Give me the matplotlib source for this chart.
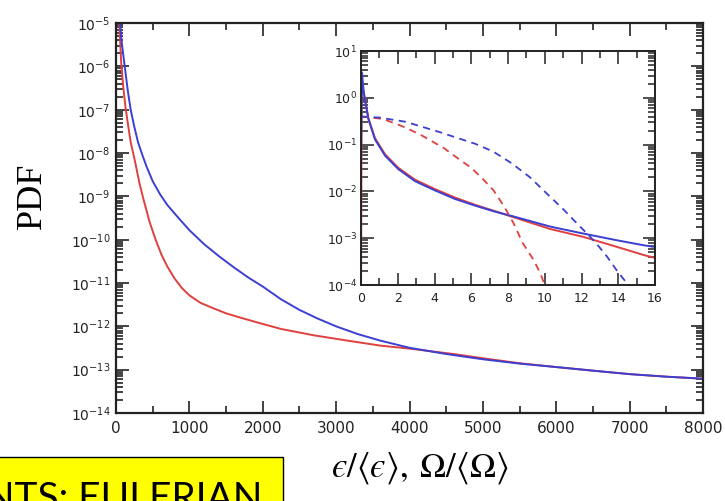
import numpy as np
import matplotlib
matplotlib.use("Agg")
import matplotlib.pyplot as plt
from matplotlib.patches import Rectangle
from matplotlib.ticker import LogLocator, MultipleLocator, NullFormatter

plt.rcParams["font.family"] = "DejaVu Sans"
plt.rcParams["mathtext.fontset"] = "dejavusans"

# ── data ─────────────────────────────────────────────────────────────────────
# main panel: PDF of dissipation (red) and enstrophy (blue), normalised by mean
eps_x = [16, 30, 45, 70, 100, 130, 160, 200, 260, 320, 380, 460, 540, 620,
         700, 800, 900, 1000, 1150, 1330, 1500, 1700, 1950, 2250, 2700, 3150,
         3600, 4050, 4600, 5100, 5500, 6000, 6500, 7000, 7500, 8000]
eps_pdf = [4.4e-4, 6.3e-5, 1.0e-5, 1.26e-6, 3.2e-7, 1.12e-7, 5.0e-8, 1.78e-8,
           6.3e-9, 2.0e-9, 7.9e-10, 2.5e-10, 1.0e-10, 4.5e-11, 2.4e-11,
           1.26e-11, 7.6e-12, 5.2e-12, 3.5e-12, 2.6e-12, 2.0e-12, 1.58e-12,
           1.2e-12, 8.7e-13, 6.2e-13, 4.7e-13, 3.6e-13, 3.0e-13, 2.3e-13,
           1.74e-13, 1.41e-13, 1.15e-13, 9.5e-14, 7.9e-14, 6.9e-14, 6.2e-14]

ens_x = [16, 30, 55, 75, 100, 130, 160, 200, 250, 300, 360, 420, 500, 600,
         700, 850, 1000, 1200, 1400, 1600, 1800, 2000, 2250, 2500, 2750, 3000,
         3300, 3600, 4000, 4500, 5000, 5500, 6000, 6500, 7000, 7500, 8000]
ens_pdf = [7.1e-4, 1.0e-4, 1.0e-5, 4.0e-6, 1.78e-6, 7.1e-7, 2.8e-7, 1.0e-7,
           4.0e-8, 1.78e-8, 8.9e-9, 4.7e-9, 2.24e-9, 1.12e-9, 6.3e-10,
           3.2e-10, 1.66e-10, 7.9e-11, 4.2e-11, 2.34e-11, 1.35e-11, 8.3e-12,
           4.2e-12, 2.4e-12, 1.51e-12, 1.0e-12, 6.6e-13, 4.7e-13, 3.2e-13,
           2.3e-13, 1.74e-13, 1.38e-13, 1.15e-13, 9.5e-14, 7.9e-14, 6.9e-14,
           6.2e-14]

# inset: low end of the same PDFs (solid) and Gaussian-field reference (dashed)
in_eps_x = [0, 0.03, 0.15, 0.4, 0.76, 1.31, 2.03, 2.94, 4.03, 5.12, 6.2, 7.29,
            8.2, 10.29, 12.1, 13.9, 15.37, 16]
in_eps_pdf = [5.0e-5, 2.2, 1.32, 0.37, 0.138, 0.062, 0.032, 0.0178, 0.0112,
              0.0074, 0.0052, 0.0038, 0.0029, 0.00158, 0.00107, 0.00066,
              0.00044, 0.00038]

in_ens_x = [0, 0.05, 0.15, 0.4, 0.76, 1.31, 2.03, 2.94, 4.03, 5.12, 6.2, 7.29,
            8.2, 10.29, 12.1, 13.9, 15.37, 16]
in_ens_pdf = [0.043, 3.5, 1.26, 0.35, 0.129, 0.058, 0.030, 0.0166, 0.0105,
              0.0069, 0.0050, 0.0037, 0.0030, 0.00178, 0.00126, 0.00091,
              0.00071, 0.00065]

gauss_eps_x = [0, 1.2, 2.4, 3.3, 4.5, 5.3, 6.0, 6.6, 7.2, 7.8, 8.3, 8.8, 9.4,
               9.75, 10.05]
gauss_eps_pdf = [0.40, 0.355, 0.234, 0.158, 0.085, 0.050, 0.032, 0.019,
                 0.0107, 0.0047, 0.0021, 0.00079, 0.00034, 0.00018, 0.000089]

gauss_ens_x = [0, 1.0, 2.4, 4.2, 5.2, 6.2, 7.2, 8.2, 9.2, 10.1, 11.0, 11.55,
               12.3, 12.8, 13.4, 13.9, 14.46, 14.7]
gauss_ens_pdf = [0.40, 0.38, 0.31, 0.19, 0.141, 0.105, 0.071, 0.040, 0.020,
                 0.0091, 0.0042, 0.0025, 0.00126, 0.00078, 0.00040, 0.00021,
                 0.00011, 0.000063]

RED = "#e0403e"
BLUE = "#3b3fd2"

# ── figure ───────────────────────────────────────────────────────────────────
fig = plt.figure(figsize=(7.25, 5.01), dpi=100)
ax = fig.add_axes([0.160, 0.1756, 0.8097, 0.7784])

ax.plot(eps_x, eps_pdf, color=RED, lw=1.4)
ax.plot(ens_x, ens_pdf, color=BLUE, lw=1.4)
ax.set_yscale("log")
ax.set_xlim(0, 8000)
ax.set_ylim(1e-14, 1e-5)

ax.xaxis.set_major_locator(MultipleLocator(1000))
ax.xaxis.set_minor_locator(MultipleLocator(500))
ax.yaxis.set_major_locator(LogLocator(base=10, numticks=20))
ax.yaxis.set_minor_locator(LogLocator(base=10, subs=np.arange(2, 10), numticks=20))
ax.yaxis.set_minor_formatter(NullFormatter())
ax.tick_params(which="both", direction="in", top=True, right=True,
               colors="#222222", width=1.2)
ax.tick_params(which="major", length=9, labelsize=11, pad=6)
ax.tick_params(axis="y", which="major", labelsize=10, pad=4)
ax.tick_params(which="minor", length=5)
for s in ax.spines.values():
    s.set_linewidth(1.6)
    s.set_color("#222222")

fig.text(0.045, 0.61, "PDF", rotation=90, ha="center", va="center",
         fontsize=26, family="Liberation Serif")
# lunate epsilon (U+03F5) as in the paper's notation
fig.text(0.579, 0.066, "$\u03f5/\\langle\u03f5\\rangle,\\;\\Omega/\\langle\\Omega\\rangle$",
         ha="center", va="center", fontsize=25, math_fontfamily="stix")

# ── inset ────────────────────────────────────────────────────────────────────
ins = fig.add_axes([0.498, 0.431, 0.4055, 0.467])
ins.plot(in_eps_x, in_eps_pdf, color=RED, lw=1.4)
ins.plot(in_ens_x, in_ens_pdf, color=BLUE, lw=1.4)
ins.plot(gauss_eps_x, gauss_eps_pdf, color=RED, lw=1.3, ls=(0, (4, 3)))
ins.plot(gauss_ens_x, gauss_ens_pdf, color=BLUE, lw=1.3, ls=(0, (4, 3)))
ins.set_yscale("log")
ins.set_xlim(0, 16)
ins.set_ylim(1e-4, 1e1)
ins.xaxis.set_major_locator(MultipleLocator(2))
ins.xaxis.set_minor_locator(MultipleLocator(1))
ins.yaxis.set_major_locator(LogLocator(base=10, numticks=10))
ins.yaxis.set_minor_locator(LogLocator(base=10, subs=np.arange(2, 10), numticks=10))
ins.yaxis.set_minor_formatter(NullFormatter())
ins.tick_params(which="both", direction="in", top=True, right=True,
                colors="#222222", width=1.1)
ins.tick_params(which="major", length=9, labelsize=9, pad=5)
ins.tick_params(axis="y", which="major", pad=3)
ins.tick_params(which="minor", length=5)
for s in ins.spines.values():
    s.set_linewidth(1.4)
    s.set_color("#222222")
ins.set_zorder(3)

# ── caption box ──────────────────────────────────────────────────────────────
fig.patches.append(Rectangle((-0.01, -0.05), 0.400, 0.1378,
                             transform=fig.transFigure, facecolor="#ffff00",
                             edgecolor="black", lw=1.0))
fig.text(0.3614, -0.018, "NTS: EULERIAN", ha="right", va="baseline",
         fontsize=28, family="Lato", color="black")

fig.savefig("out.png", dpi=100)
